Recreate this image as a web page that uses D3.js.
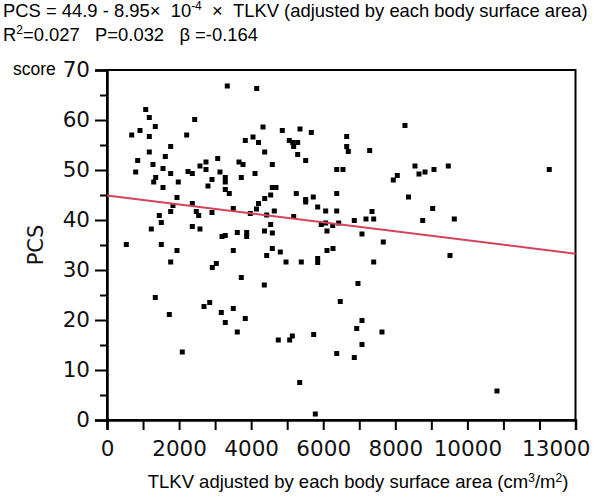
<!DOCTYPE html>
<html>
<head>
<meta charset="utf-8">
<script src="https://cdn.jsdelivr.net/npm/d3@7"></script>
<style>
  body { margin: 0; background: #fff; }
  svg { display: block; }
</style>
</head>
<body>
<svg id="chart" width="600" height="497"></svg>
<script>
const tlkv = [
  3338, 4154, 1074, 1174, 2433, 1340, 685, 916, 1174, 2211, 3837, 4051, 4204, 1767, 1174, 1618,
  852, 1276, 796, 1554, 1767, 1351, 1296, 1554, 1978, 2248, 2367, 2580, 2747, 2747, 3072, 3135,
  2913, 2802, 3282, 3282, 3282, 3393, 3663, 3774, 3726, 4107, 1942, 1831, 2367, 1767, 2478, 2544,
  2913, 3504, 3976, 4204, 4148, 1451, 1507, 1229, 2367, 2580, 3191, 3282, 3615, 3876, 3876, 536,
  1507, 1942, 1767, 3504, 2922, 3033, 3726, 1340, 2691, 2850, 1729, 3171, 3504, 3282, 3837, 3615,
  2089, 8268, 4329, 4864, 5355, 5669, 5058, 5153, 5291, 5180, 6651, 6651, 6695, 7289, 4376, 5291,
  5513, 4587, 6374, 6548, 7944, 8055, 4587, 4689, 4542, 4376, 5252, 5513, 5513, 5724, 6374, 8366,
  5846, 6068, 6374, 4642, 4431, 5180, 5946, 6068, 6263, 6429, 6104, 6862, 7186, 7400, 7353, 4542,
  4370, 4587, 7075, 7666, 4587, 4431, 4809, 4967, 5391, 5846, 5846, 6104, 6271, 7400, 4365, 6964,
  6473, 7075, 6929, 7630, 4753, 5069, 5142, 5735, 7075, 6374, 6862, 5347, 5780, 8546, 8657, 8824,
  9073, 9470, 12272, 9037, 8760, 9637, 9517, 10821
]
const pcs = [
  66.8, 66.3, 62.1, 60.5, 60.1, 58.7, 57.0, 57.9, 56.7, 57.0, 55.9, 56.6, 55.5, 54.7, 53.6, 52.7,
  51.9, 51.1, 49.6, 50.3, 49.3, 48.5, 47.6, 46.5, 47.6, 49.7, 49.3, 50.8, 51.6, 50.1, 52.3, 49.6,
  48.1, 46.8, 48.5, 47.6, 46.1, 45.3, 51.6, 51.1, 48.5, 49.3, 44.5, 42.9, 43.3, 41.7, 41.7, 40.9,
  41.5, 42.3, 41.3, 43.3, 42.2, 40.9, 39.5, 38.2, 38.7, 38.2, 36.7, 36.9, 37.5, 37.5, 36.7, 35.1,
  35.1, 33.9, 31.6, 33.9, 30.5, 31.3, 28.5, 24.5, 22.7, 23.5, 21.1, 21.5, 22.3, 19.5, 20.3, 17.6,
  13.6, 58.9, 58.6, 57.9, 58.2, 57.5, 55.9, 55.5, 55.5, 54.7, 56.7, 54.7, 53.7, 53.9, 53.6, 53.1,
  51.9, 51.1, 50.1, 50.1, 48.0, 48.9, 46.5, 46.5, 45.0, 44.3, 45.3, 44.1, 43.6, 44.6, 45.3, 44.6,
  42.6, 41.8, 41.8, 41.8, 41.0, 40.7, 39.1, 39.4, 38.9, 39.4, 37.8, 39.9, 40.2, 40.2, 41.7, 39.1,
  37.8, 37.4, 37.2, 35.6, 34.3, 32.9, 33.6, 31.6, 31.6, 32.3, 31.5, 33.9, 34.3, 31.6, 27.0, 27.3,
  23.7, 19.9, 18.3, 17.6, 16.0, 16.0, 16.8, 17.1, 15.1, 13.3, 12.5, 7.5, 1.2, 50.8, 49.2, 49.6,
  50.1, 50.8, 50.1, 42.3, 39.9, 40.2, 32.9, 5.8
]
const regIntercept = 44.9
const regSlope = -8.95e-4
const yTicks = [0, 10, 20, 30, 40, 50, 60, 70]
const yMinorTicks = [5, 15, 25, 35, 45, 55, 65]
const xTicks = d3.range(0, 13001, 1000)
const xLabels = [0, 2000, 4000, 6000, 8000, 10000, 13000]

const svg = d3.select('#chart')
const plotLeft = 107
const plotRight = 575.5
const plotTop = 70
const plotBottom = 420

const x = d3.scaleLinear().domain([0, 13000]).range([plotLeft, plotRight])
const y = d3.scaleLinear().domain([0, 70]).range([plotBottom, plotTop])

const tickFont = '"DejaVu Sans", Verdana, sans-serif'
const textFont = '"Liberation Sans", Arial, sans-serif'

// header
const h1 = svg.append('text').attr('x', 3).attr('y', 17)
  .attr('font-family', textFont).attr('font-size', 18.4).attr('fill', '#000')
h1.append('tspan').text('PCS = 44.9 - 8.95\u00d7\u00a0\u00a010')
h1.append('tspan').attr('dy', -7).attr('font-size', 12).text('-4')
h1.append('tspan').attr('dy', 7).text('\u00a0\u00a0\u00d7\u00a0\u00a0TLKV (adjusted by each body surface area)')

const h2 = svg.append('text').attr('x', 3).attr('y', 41)
  .attr('font-family', textFont).attr('font-size', 18.4).attr('fill', '#000')
h2.append('tspan').text('R')
h2.append('tspan').attr('dy', -7).attr('font-size', 12).text('2')
h2.append('tspan').attr('dy', 7).text('=0.027\u00a0\u00a0\u00a0P=0.032\u00a0\u00a0\u00a0\u03b2 =-0.164')

// frame
svg.append('rect')
  .attr('x', plotLeft).attr('y', plotTop)
  .attr('width', plotRight - plotLeft).attr('height', plotBottom - plotTop)
  .attr('fill', 'none').attr('stroke', '#000').attr('stroke-width', 2)

// y axis
const yAxis = d3.axisLeft(y).tickValues(yTicks).tickSize(12).tickPadding(5)
const gy = svg.append('g').attr('transform', `translate(${plotLeft},0)`).call(yAxis)
gy.select('.domain').attr('stroke-width', 2.5)
gy.selectAll('.tick line').attr('stroke-width', 2)
gy.selectAll('.tick text').attr('font-family', tickFont).attr('font-size', 21.5).attr('fill', '#111')

const gyMinor = svg.append('g').attr('transform', `translate(${plotLeft},0)`)
  .call(d3.axisLeft(y).tickValues(yMinorTicks).tickSize(7).tickFormat(''))
gyMinor.select('.domain').remove()
gyMinor.selectAll('.tick line').attr('stroke-width', 2)

// x axis
const xAxis = d3.axisBottom(x).tickValues(xTicks).tickSize(10).tickPadding(11)
  .tickFormat(d => xLabels.includes(d) ? d : '')
const gx = svg.append('g').attr('transform', `translate(0,${plotBottom})`).call(xAxis)
gx.select('.domain').attr('stroke-width', 2.5)
gx.selectAll('.tick line').attr('stroke-width', 2)
gx.selectAll('.tick text').attr('font-family', tickFont).attr('font-size', 21.5).attr('fill', '#111')
// last label is pulled inside the page, as in the original
gx.selectAll('.tick text').filter(d => d === 13000)
  .attr('text-anchor', 'end').attr('x', 590 - x(13000))

// axis titles
svg.append('text').attr('x', 13).attr('y', 75)
  .attr('font-family', textFont).attr('font-size', 17.5).text('score')

svg.append('text')
  .attr('transform', 'translate(43,245) rotate(-90)')
  .attr('text-anchor', 'middle')
  .attr('font-family', tickFont).attr('font-size', 21).attr('fill', '#111')
  .text('PCS')

const xt = svg.append('text').attr('x', 358).attr('y', 488)
  .attr('text-anchor', 'middle')
  .attr('font-family', textFont).attr('font-size', 18.5)
xt.append('tspan').text('TLKV adjusted by each body surface area (cm')
xt.append('tspan').attr('dy', -6).attr('font-size', 12).text('3')
xt.append('tspan').attr('dy', 6).text('/m')
xt.append('tspan').attr('dy', -6).attr('font-size', 12).text('2')
xt.append('tspan').attr('dy', 6).text(')')

// points
const pts = tlkv.map((v, i) => ({ x: v, y: pcs[i] }))
svg.append('g').selectAll('rect').data(pts).enter()
  .append('rect')
  .attr('x', d => x(d.x) - 2.5)
  .attr('y', d => y(d.y) - 2.5)
  .attr('width', 5)
  .attr('height', 5)
  .attr('fill', '#000')

// regression line
const xDom = x.domain()
svg.append('line')
  .attr('x1', x(xDom[0])).attr('y1', y(regIntercept + regSlope * xDom[0]))
  .attr('x2', x(xDom[1])).attr('y2', y(regIntercept + regSlope * xDom[1]))
  .attr('stroke', '#d4425c').attr('stroke-width', 2)
</script>
</body>
</html>
